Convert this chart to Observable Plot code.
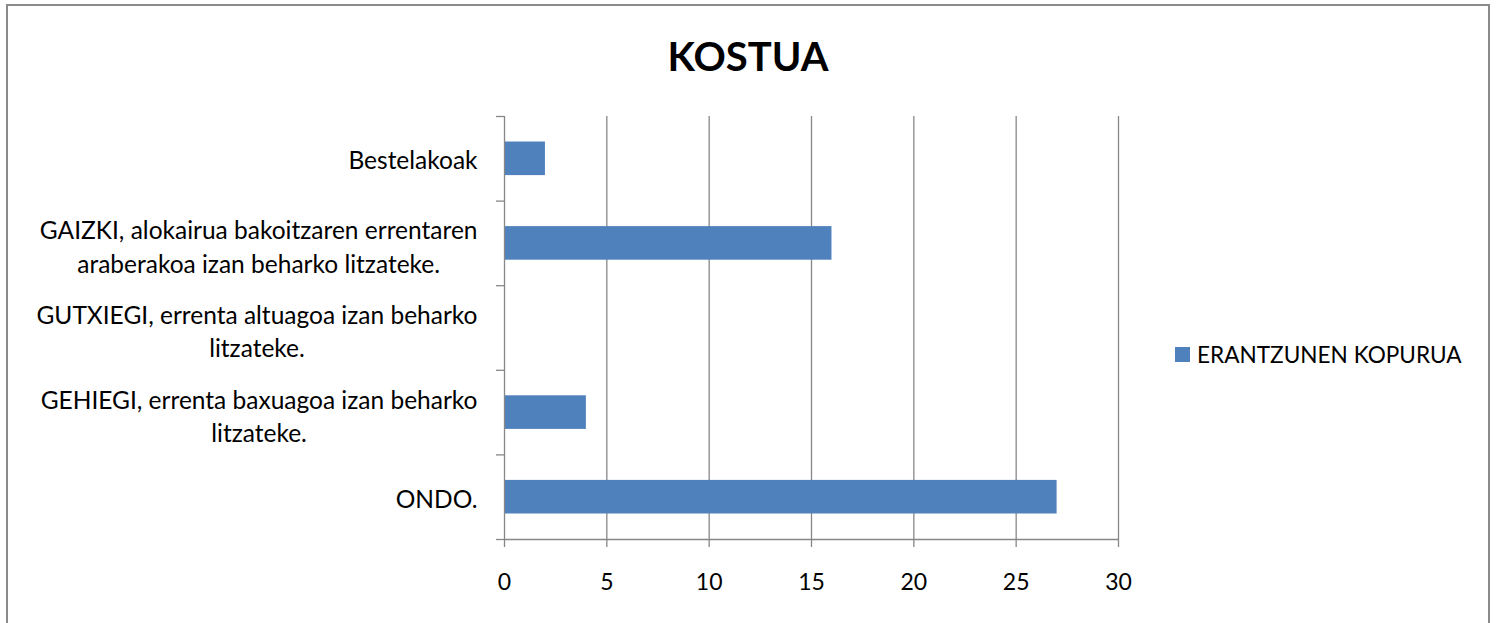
<!DOCTYPE html>
<html>
<head>
<meta charset="utf-8">
<script src="https://cdn.jsdelivr.net/npm/d3@7"></script>
<script src="https://cdn.jsdelivr.net/npm/@observablehq/plot@0.6"></script>
<style>
  html, body { margin: 0; padding: 0; background: #fff; }
  #wrap { position: relative; width: 1496px; height: 623px; overflow: hidden; font-family: Lato, "Open Sans", sans-serif; }
  #frame { position: absolute; left: 6px; top: 4px; width: 1484px; height: 700px; border: 2px solid #8a8a8a; box-sizing: border-box; }
  #title { position: absolute; left: 0; width: 1496px; top: 29px; text-align: center; font-weight: bold; font-size: 40px; line-height: 54px; color: #000; }
  #legend { position: absolute; left: 1175px; top: 341px; display: flex; align-items: center; font-size: 22.6px; color: #000; }
  #legend .sw { width: 15px; height: 15px; background: #4F81BD; margin-right: 7px; }
  #chart { position: absolute; left: 0; top: 0; }
</style>
</head>
<body>
<div id="wrap">
  <div id="frame"></div>
  <div id="chart"></div>
  <div id="title">KOSTUA</div>
  <div id="legend"><div class="sw"></div><span id="legendText"></span></div>
</div>
<script>
// Data (top to bottom as shown)
const categories = [
  "Bestelakoak",
  "GAIZKI, alokairua bakoitzaren errentaren\naraberakoa izan beharko litzateke.",
  "GUTXIEGI, errenta altuagoa izan beharko\nlitzateke.",
  "GEHIEGI, errenta baxuagoa izan beharko\nlitzateke.",
  "ONDO."
];
const values = [2, 16, 0, 4, 27];
const seriesName = "ERANTZUNEN KOPURUA";
const xTicks = [0, 5, 10, 15, 20, 25, 30];

document.getElementById("legendText").textContent = seriesName;

const n = categories.length;
// index from bottom: ONDO = 0
const data = categories.map((c, i) => ({ label: c, value: values[i], idx: n - 1 - i }));

const fontSize = 24.5;
const tickFontSize = 23;
const fontFamily = "Lato";
const canvas = document.createElement("canvas");
const ctx = canvas.getContext("2d");
ctx.font = `${fontSize}px ${fontFamily}`;
const blockWidth = s => d3.max(s.split("\n"), l => ctx.measureText(l).width);

const gray = "#878787";
const labelGap = 27;

const labelMarks = data.map(d => Plot.text([d], {
  y: d => d.idx + 0.5,
  text: "label",
  frameAnchor: "left",
  textAnchor: "middle",
  lineHeight: 1.36,
  fontSize: fontSize,
  dx: -(labelGap + blockWidth(d.label) / 2),
  dy: d.label.includes("\n") ? 2 : 0,
  fill: "#000"
}));

const chart = Plot.plot({
  width: 1496,
  height: 623,
  marginLeft: 504,
  marginRight: 378,
  marginTop: 116,
  marginBottom: 84,
  style: { fontFamily: fontFamily, fontSize: tickFontSize + "px", background: "transparent", overflow: "visible" },
  x: { domain: [0, 30] },
  y: { domain: [0, n] },
  marks: [
    Plot.gridX({ ticks: xTicks.filter(t => t > 0), stroke: gray, strokeOpacity: 1, strokeWidth: 1.3 }),
    Plot.rectX(data, { x1: 0, x2: "value", y1: "idx", y2: d => d.idx + 1, insetTop: 25.5, insetBottom: 25.5, fill: "#4F81BD" }),
    Plot.ruleX([0], { stroke: gray, strokeWidth: 1.3 }),
    Plot.ruleY([0], { stroke: gray, strokeWidth: 1.3 }),
    Plot.axisX({ ticks: xTicks, tickSize: 8, tickPadding: 26, label: null, stroke: gray, strokeWidth: 1.3, fill: "#000", tickFormat: d3.format("d") }),
    Plot.axisY({ ticks: d3.range(n + 1), tickSize: 8, tickFormat: () => "", label: null, stroke: gray, strokeWidth: 1.3 }),
    ...labelMarks
  ]
});
document.getElementById("chart").appendChild(chart);
</script>
</body>
</html>
